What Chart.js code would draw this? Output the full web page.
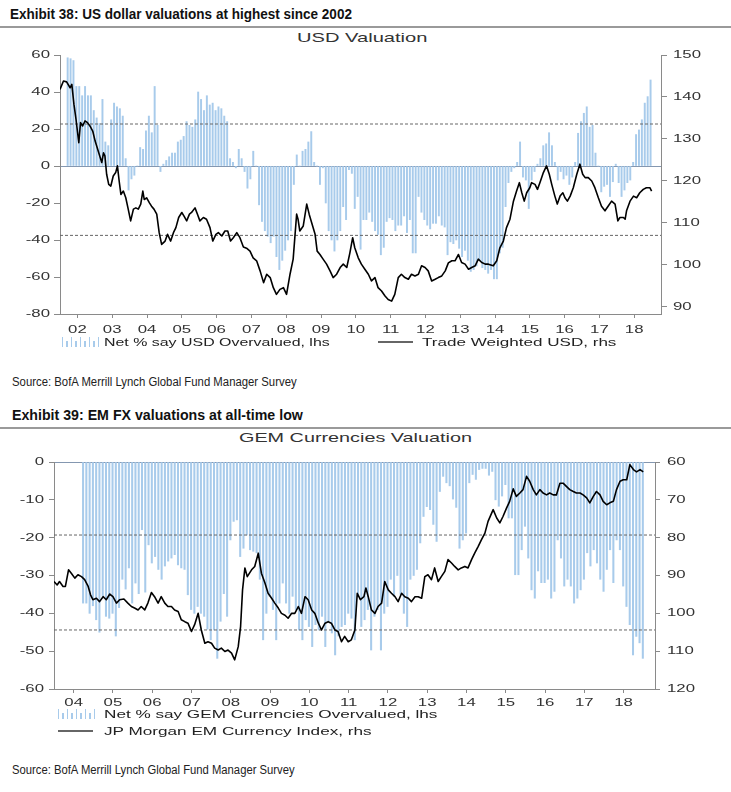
<!DOCTYPE html>
<html><head><meta charset="utf-8">
<script src="https://cdn.jsdelivr.net/npm/chart.js@4.4.1/dist/chart.umd.min.js"></script>
<style>
body{margin:0;background:#fff;width:731px;height:792px;position:relative;overflow:hidden;font-family:"Liberation Sans",Arial,sans-serif;}
.t{position:absolute;white-space:nowrap;transform-origin:0 50%;line-height:1.15;left:0;top:0;}
.hdr{font-family:"Liberation Sans Narrow","Liberation Sans",Arial,sans-serif;font-weight:bold;font-size:15.5px;color:#111;}
.ttl{font-size:13px;color:#333;}
.leg{font-size:10.5px;color:#222;}
.src{font-family:"Liberation Sans Narrow","Liberation Sans",Arial,sans-serif;font-size:12.5px;color:#222;}
.sep{position:absolute;left:0;width:731px;height:2px;background:#9a9a9a;}
canvas{position:absolute;left:0;}
.ico-bar{position:absolute;width:38px;height:10px;
 background:repeating-linear-gradient(90deg,#a8cbeb 0 1.3px,transparent 1.3px 9px) left bottom/100% 100% no-repeat,
 repeating-linear-gradient(90deg,transparent 0 4.5px,#a8cbeb 4.5px 5.8px,transparent 5.8px 9px) left bottom/100% 60% no-repeat;}
.ico-line{position:absolute;width:35px;height:2px;background:#666;}
</style></head><body>

<div class="t hdr" data-x="10" data-w="342" data-cy="14">Exhibit 38: US dollar valuations at highest since 2002</div>
<div class="sep" style="top:26px"></div>
<div class="t ttl" data-cx="362" data-w="130" data-cy="38.5">USD Valuation</div>
<canvas id="c1" width="731" height="310" style="top:30px"></canvas>
<div class="ico-bar" style="left:62px;top:337px"></div>
<div class="t leg" data-x="104" data-w="226" data-cy="342">Net % say USD Overvalued, lhs</div>
<div class="ico-line" style="left:378px;top:341px"></div>
<div class="t leg" data-x="422" data-w="195" data-cy="342">Trade Weighted USD, rhs</div>
<div class="t src" data-x="12" data-w="285" data-cy="382">Source: BofA Merrill Lynch Global Fund Manager Survey</div>

<div class="t hdr" data-x="12" data-w="291" data-cy="415">Exhibit 39: EM FX valuations at all-time low</div>
<div class="sep" style="top:427px"></div>
<div class="t ttl" data-cx="355" data-w="233" data-cy="438.5">GEM Currencies Valuation</div>
<canvas id="c2" width="731" height="275" style="top:440px"></canvas>
<div class="ico-bar" style="left:58px;top:709px"></div>
<div class="t leg" data-x="104" data-w="333" data-cy="714">Net % say GEM Currencies Overvalued, lhs</div>
<div class="ico-line" style="left:58px;top:730px"></div>
<div class="t leg" data-x="104" data-w="268" data-cy="731">JP Morgan EM Currency Index, rhs</div>
<div class="t src" data-x="12" data-w="283" data-cy="770">Source: BofA Merrill Lynch Global Fund Manager Survey</div>

<script>
// ================= DATA =================
// Exhibit 38 – monthly survey: Net % say USD overvalued (lhs), first reading ~Mar 2002
const usdSurveyStart = 2002.22;
const usdNetOvervalued = [
 58.5,58,57,43,43,38,43,38,38,30,26,23,36,13,11,25,34,32,31,27,4,-13,-7,-5,0,10,9,19,27,18,43,22,-3,1,3,5,7,7,13,14,16,24,22,21,25,40,36,30,38,33,34,30,32,31,27,24,4,2,-1,9,4,-3,-12,
 -7,8,0,-21,-30,-35,-38,-41.5,-38,-49,-56,-51,-45.6,-40,-35,-10,6,0,8,9,13,18.6,2,0,-10,-1,-20,-35,-40,-46,-40,-35,-22,-29,-2,-4,-23,-16.5,-45,-29,-29,-25,-30,-35,-37,-48,-44,-30,-28,-29,-35,-32,-32,-27,-36,-29,-47,-47,-16.5,-25,-29,-32,-34,-31,-31,-27,-32,-33,-48,-41,-42,-40,-44.5,-49,-45.6,-51,-57,-56,-54,-51,-55,-56,
 -58,-56,-61,-61,-47,-44,-22,-9,-3,-1,2,13,-6,-7.6,-23,-7.6,-3,1,4,11,12,18,11,2,-7.6,-3,-7,-5,-10,-6,2,17.7,24,28.5,32,21,22,7,0,-14,-11,-10,-16.5,-8.5,1,-9,-16.5,-13,-9,-7.6,2,17,19.5,25,34,37.5,46.5
];
// Trade Weighted USD (rhs): [date, level]
const usdTradeWeighted = [
 [2002.00,141.8],[2002.10,143.8],[2002.19,143.6],[2002.29,142.2],[2002.34,143.0],[2002.40,138.3],[2002.46,134.7],[2002.54,129.1],[2002.59,133.9],[2002.65,133.1],[2002.72,134.3],[2002.79,133.9],[2002.86,133.1],[2002.94,131.9],
 [2003.01,129.5],[2003.10,127.1],[2003.20,124.4],[2003.25,126.7],[2003.29,126.0],[2003.34,121.6],[2003.40,119.2],[2003.46,118.8],[2003.53,121.2],[2003.60,122.0],[2003.65,123.6],[2003.70,120.0],[2003.75,116.8],[2003.82,117.6],[2003.89,116.0],[2003.96,113.3],
 [2004.03,110.5],[2004.11,113.3],[2004.18,113.6],[2004.25,113.3],[2004.32,114.5],[2004.38,117.6],[2004.42,115.6],[2004.49,116.0],[2004.57,114.8],[2004.63,114.0],[2004.70,113.3],[2004.78,112.1],[2004.85,107.7],[2004.92,104.9],
 [2005.02,105.7],[2005.09,107.3],[2005.18,105.7],[2005.26,107.7],[2005.33,108.9],[2005.41,111.3],[2005.50,112.5],[2005.56,111.7],[2005.64,110.5],[2005.72,112.1],[2005.78,112.5],[2005.88,113.6],[2005.95,112.1],
 [2006.02,110.5],[2006.12,111.3],[2006.21,110.9],[2006.31,108.9],[2006.39,105.7],[2006.48,107.3],[2006.55,107.7],[2006.65,106.9],[2006.74,108.1],[2006.82,108.1],[2006.90,105.7],[2006.98,106.5],
 [2007.08,107.7],[2007.17,106.5],[2007.27,104.3],[2007.36,104.0],[2007.46,103.3],[2007.55,101.7],[2007.65,101.0],[2007.75,98.6],[2007.85,95.8],[2007.94,97.8],
 [2008.04,97.0],[2008.13,94.6],[2008.22,93.0],[2008.32,94.2],[2008.42,94.6],[2008.51,93.0],[2008.61,97.8],[2008.70,101.4],[2008.80,112.1],[2008.84,110.9],[2008.89,108.1],[2008.99,109.3],
 [2009.09,114.5],[2009.16,112.1],[2009.23,110.1],[2009.33,107.3],[2009.39,103.3],[2009.47,102.5],[2009.56,101.4],[2009.66,100.2],[2009.76,98.6],[2009.85,97.0],[2009.95,97.8],
 [2010.05,99.4],[2010.14,100.2],[2010.24,99.4],[2010.33,102.9],[2010.41,106.5],[2010.47,104.1],[2010.57,101.7],[2010.66,100.2],[2010.76,99.0],[2010.86,97.8],[2010.95,96.2],
 [2011.05,97.0],[2011.14,94.6],[2011.24,93.8],[2011.34,92.6],[2011.43,91.8],[2011.53,91.4],[2011.62,93.0],[2011.72,97.0],[2011.81,97.8],[2011.91,97.0],
 [2012.01,96.6],[2012.10,97.8],[2012.20,97.4],[2012.30,97.8],[2012.39,99.8],[2012.49,99.4],[2012.58,98.6],[2012.68,96.2],[2012.78,96.6],[2012.87,97.0],[2012.97,97.4],
 [2013.07,98.6],[2013.16,100.5],[2013.26,101.0],[2013.35,101.0],[2013.45,102.5],[2013.54,100.6],[2013.64,100.2],[2013.74,99.0],[2013.83,99.4],[2013.93,99.8],
 [2014.02,101.4],[2014.12,100.6],[2014.22,100.2],[2014.31,100.2],[2014.45,99.8],[2014.55,101.0],[2014.64,104.1],[2014.74,105.7],[2014.83,108.9],[2014.93,110.9],
 [2015.03,115.2],[2015.12,117.6],[2015.20,119.6],[2015.27,117.2],[2015.34,115.2],[2015.41,117.2],[2015.50,118.4],[2015.55,119.6],[2015.65,119.2],[2015.72,118.0],[2015.79,119.6],[2015.89,122.0],[2015.98,123.6],
 [2016.06,121.6],[2016.13,119.2],[2016.22,116.4],[2016.29,114.5],[2016.37,116.4],[2016.45,117.2],[2016.51,116.0],[2016.58,115.2],[2016.66,116.4],[2016.75,118.4],[2016.85,121.6],[2016.94,124.0],
 [2017.02,121.6],[2017.09,120.8],[2017.18,120.8],[2017.28,120.0],[2017.37,118.4],[2017.47,116.0],[2017.56,114.0],[2017.66,112.9],[2017.75,114.0],[2017.85,115.2],[2017.95,114.5],
 [2018.03,110.5],[2018.09,111.3],[2018.19,111.3],[2018.24,110.9],[2018.28,112.9],[2018.38,115.2],[2018.48,116.4],[2018.57,116.0],[2018.66,117.2],[2018.76,118.0],[2018.85,118.4],[2018.95,118.4],[2019.00,117.6]
];
const usdBands = [22.7, -37.5];            // dashed reference levels (lhs)
const usdYearLabels = ['02','03','04','05','06','07','08','09','10','11','12','13','14','15','16','17','18'];

// Exhibit 39 – monthly survey: Net % say GEM currencies overvalued (lhs), first reading ~Oct 2004
const gemSurveyStart = 2004.74;
const gemNetOvervalued = [
 -37.3,-37.3,-40,-38,-41.7,-45,-35.5,-40.8,-41.3,-40,-46,-38.5,-31,-33.6,-28,-37.3,-32,-34.8,-17.9,-34.4,-21.9,-26.7,-25,-28.4,-31,-27.5,-26.2,-25.4,-24.5,-27.2,-28,-28.4,-35.1,-39,-40,-38.2,-40,-40.8,-44.2,-47,-44.4,-51.9,-42.1,-34.8,-40.8,-20.6,-15.7,-15.3,-25,-22.8,-19.3,
 -23.2,-23.6,-24,-31,-47,-40,-35.5,-39,-47,-37.3,-32,-37.3,-40,-35.5,-39,-44.4,-47,-41.7,-43.5,-48.8,-43,-44.4,-40.8,-48.8,-42,-45.2,-51,-46,-43.5,-43,-40,-41.3,-47,-35.5,-43.5,-41.7,-39,-49.7,-40.8,-39,-49.7,-40,-38.2,-31,-35.5,-30,-35,-40,-43.5,-31,-30,-28.4,-21.4,-14.4,-11.8,-12.6,-16.5,-21,-7.8,-3.8,-5.5,-6.3,-9.8,-12,-22.8,-20.6,-18.8,-5.5,-3.3,-4.6,-2,-1.7,-1.7,
 -3.5,-2.5,-10,-11.7,-9,-6,-14.8,-14.8,-29.8,-29.8,-23.2,-17,-25.4,-33.8,-36,-28.8,-31.9,-31.9,-31,-36,-34.2,-20.6,-25.4,-32.8,-31,-32.8,-37.3,-36,-33.8,-31,-24,-27.5,-23.2,-26.7,-31,-34.2,-28.4,-23.2,-31.9,-20.6,-23.2,-32.8,-38.2,-43,-51,-46.1,-47.8,-51.9
];
// JP Morgan EM Currency Index (rhs, inverted): [date, level]
const gemJpmIndex = [
 [2004.00,91.6],[2004.08,92.5],[2004.14,91.6],[2004.23,92.9],[2004.29,92.9],[2004.37,88.5],[2004.44,89.4],[2004.53,90.7],[2004.61,89.8],[2004.70,90.3],[2004.78,91.1],[2004.87,92.9],[2004.93,95.1],[2004.99,96.4],
 [2005.08,96.0],[2005.16,96.9],[2005.25,95.6],[2005.33,96.4],[2005.42,94.9],[2005.50,95.6],[2005.59,97.3],[2005.67,96.4],[2005.78,96.2],[2005.88,97.3],[2005.97,98.2],
 [2006.05,98.6],[2006.14,99.1],[2006.22,98.2],[2006.31,99.1],[2006.39,97.3],[2006.48,94.5],[2006.56,95.6],[2006.65,97.3],[2006.73,95.6],[2006.82,97.3],[2006.90,98.2],[2006.99,98.2],
 [2007.07,99.1],[2007.16,99.5],[2007.24,101.7],[2007.33,102.2],[2007.41,102.6],[2007.50,104.8],[2007.58,103.0],[2007.67,100.0],[2007.75,104.4],[2007.84,107.9],[2007.92,107.5],
 [2008.01,107.9],[2008.09,109.2],[2008.18,109.7],[2008.26,109.2],[2008.35,110.1],[2008.43,109.7],[2008.52,110.5],[2008.60,112.3],[2008.69,108.8],[2008.75,103.5],[2008.80,93.8],[2008.86,88.0],[2008.92,90.3],
 [2009.03,88.5],[2009.11,87.6],[2009.20,84.1],[2009.28,89.4],[2009.37,92.0],[2009.45,94.7],[2009.54,96.0],[2009.62,97.3],[2009.71,98.6],[2009.79,100.0],[2009.88,100.5],[2009.96,101.3],
 [2010.05,100.0],[2010.13,100.0],[2010.22,98.2],[2010.30,100.0],[2010.39,95.6],[2010.47,96.4],[2010.56,99.1],[2010.64,100.0],[2010.73,102.6],[2010.81,104.4],[2010.90,102.6],[2010.98,102.2],
 [2011.06,102.6],[2011.15,104.4],[2011.23,104.8],[2011.32,107.5],[2011.40,106.1],[2011.49,107.5],[2011.57,107.0],[2011.66,104.4],[2011.72,94.7],[2011.80,96.4],[2011.89,95.6],[2011.94,93.3],
 [2012.00,95.6],[2012.08,99.1],[2012.17,100.0],[2012.25,98.2],[2012.34,97.3],[2012.42,91.6],[2012.51,93.8],[2012.59,94.7],[2012.68,95.6],[2012.76,96.9],[2012.85,94.7],[2012.93,95.6],
 [2013.02,96.0],[2013.10,96.9],[2013.19,95.6],[2013.27,95.6],[2013.36,96.0],[2013.44,90.3],[2013.52,89.8],[2013.61,91.1],[2013.69,88.0],[2013.78,91.6],[2013.86,90.3],[2013.95,88.9],
 [2014.03,85.8],[2014.12,86.7],[2014.20,87.6],[2014.29,88.5],[2014.37,88.0],[2014.46,87.6],[2014.54,88.0],[2014.63,85.8],[2014.71,84.1],[2014.80,82.3],[2014.88,80.6],[2014.97,78.8],
 [2015.05,75.7],[2015.18,72.6],[2015.27,74.8],[2015.35,76.1],[2015.43,74.4],[2015.52,72.2],[2015.60,70.4],[2015.69,67.1],[2015.77,69.1],[2015.86,68.2],[2015.94,67.3],
 [2016.03,63.8],[2016.11,65.1],[2016.20,67.3],[2016.28,68.7],[2016.37,67.3],[2016.45,68.2],[2016.54,68.7],[2016.62,68.2],[2016.71,68.7],[2016.79,68.7],[2016.88,65.6],[2016.96,65.6],
 [2017.05,66.5],[2017.13,67.3],[2017.22,67.8],[2017.30,68.2],[2017.39,68.2],[2017.47,68.7],[2017.56,69.5],[2017.64,70.8],[2017.73,69.1],[2017.81,67.8],[2017.90,68.7],[2017.98,70.4],
 [2018.07,71.3],[2018.15,70.8],[2018.24,70.4],[2018.32,67.3],[2018.41,65.1],[2018.49,64.7],[2018.58,64.7],[2018.66,60.7],[2018.75,62.0],[2018.83,62.6],[2018.92,62.0],[2019.00,62.6]
];
const gemBands = [-19.3, -44.4];
const gemYearLabels = ['04','05','06','07','08','09','10','11','12','13','14','15','16','17','18'];

// ================= RENDER =================
const SX = 1.6; // the source chart is horizontally stretched
const stretchPlugin = {
  id: 'stretch',
  beforeInit(chart){
    const ctx = chart.ctx;
    const orig = ctx.fillText;
    ctx.fillText = function(t, x, y){ this.save(); this.translate(x, y); this.scale(SX, 1); orig.call(this, t, 0, 0); this.restore(); };
  }
};
const AX = '#8a8a8a', BAR = '#a8cbeb', TXT = '#333';
const tickFont = {family: '"Liberation Sans", Arial, sans-serif', size: 10.5};

function makeChart(id, o){
  const xMin = o.xMin, xMax = o.xMax;
  const bars = o.net.map((v, i) => ({x: o.start + i / 12, y: v}));
  const line = o.idx.map(p => ({x: p[0], y: p[1]}));
  const band = v => ({type: 'line', data: [{x: xMin, y: v}, {x: xMax, y: v}], yAxisID: 'y',
    borderColor: '#666', borderWidth: 1, borderDash: [3, 2], pointRadius: 0, order: 2});
  const firstYear = Math.round(xMin);
  return new Chart(document.getElementById(id), {
    type: 'bar',
    data: {datasets: [
      {type: 'bar', data: bars, yAxisID: 'y', backgroundColor: BAR, barThickness: o.barW, order: 3},
      band(o.bands[0]), band(o.bands[1]),
      {type: 'line', data: line, yAxisID: 'y2', borderColor: '#000', borderWidth: 1.6, pointRadius: 0,
       tension: 0, borderJoinStyle: 'round', order: 1}
    ]},
    options: {
      responsive: false, animation: false, devicePixelRatio: 1,
      layout: {padding: {top: o.padTop, left: 0, right: 0, bottom: 0}},
      plugins: {legend: {display: false}, tooltip: {enabled: false}},
      scales: {
        x: {type: 'linear', min: xMin, max: xMax, offset: false,
          afterFit: s => { s.height = 26; },
          afterBuildTicks: s => { const t = []; for (let k = 0; k <= o.labels.length; k++) t.push({value: firstYear + k}); s.ticks = t; },
          grid: {drawOnChartArea: false, tickLength: 4, tickColor: AX},
          border: {display: true, color: AX},
          ticks: {autoSkip: false, maxRotation: 0, minRotation: 0, labelOffset: o.yearPx / 2, padding: o.xPad,
            color: TXT, font: tickFont,
            callback: v => o.labels[Math.round(v) - firstYear] || ''}
        },
        y: {position: 'left', min: o.yMin, max: o.yMax,
          afterFit: s => { s.width = o.leftW; },
          ticks: {stepSize: o.yStep, color: TXT, font: tickFont, padding: o.lPad},
          grid: {drawOnChartArea: true, tickLength: o.tickL, tickColor: AX,
            color: c => (c.tick && c.tick.value === 0) ? '#8497b0' : 'rgba(0,0,0,0)'},
          border: {display: true, color: AX}
        },
        y2: {position: 'right', min: o.rMin, max: o.rMax, reverse: !!o.rRev,
          afterFit: s => { s.width = 731 - o.rightX; },
          afterBuildTicks: s => { s.ticks = o.rTicks.map(v => ({value: v})); },
          ticks: {color: TXT, font: tickFont, padding: o.rPad},
          grid: {drawOnChartArea: false, tickLength: o.tickL, tickColor: AX},
          border: {display: true, color: AX}
        }
      }
    },
    plugins: [stretchPlugin]
  });
}

makeChart('c1', {
  start: usdSurveyStart, net: usdNetOvervalued, idx: usdTradeWeighted, bands: usdBands, labels: usdYearLabels,
  xMin: 2002, xMax: 2019.27, yearPx: 34.8, barW: 1.3, padTop: 25, xPad: 6,
  yMin: -80, yMax: 60, yStep: 20, leftW: 60, lPad: 4, tickL: 6,
  rMin: 88.33, rMax: 150, rTicks: [90, 100, 110, 120, 130, 140, 150], rightX: 661, rPad: 6
});
makeChart('c2', {
  start: gemSurveyStart, net: gemNetOvervalued, idx: gemJpmIndex, bands: gemBands, labels: gemYearLabels,
  xMin: 2004, xMax: 2019.30, yearPx: 39.27, barW: 1.4, padTop: 22, xPad: 4,
  yMin: -60, yMax: 0, yStep: 10, leftW: 54, lPad: 5, tickL: 5,
  rMin: 60, rMax: 120, rRev: true, rTicks: [60, 70, 80, 90, 100, 110, 120], rightX: 655, rPad: 7
});

function layoutText(){
  document.querySelectorAll('.t').forEach(el => {
    el.style.transform = 'none';
    const w = +el.dataset.w, cy = +el.dataset.cy;
    const nat = el.offsetWidth, h = el.offsetHeight;
    const left = el.dataset.cx ? (+el.dataset.cx - w / 2) : +el.dataset.x;
    el.style.left = left + 'px';
    el.style.top = (cy - h / 2) + 'px';
    el.style.transform = 'scaleX(' + (w / nat) + ')';
  });
}
layoutText();
if (document.fonts && document.fonts.ready) document.fonts.ready.then(layoutText);
</script>
</body></html>
